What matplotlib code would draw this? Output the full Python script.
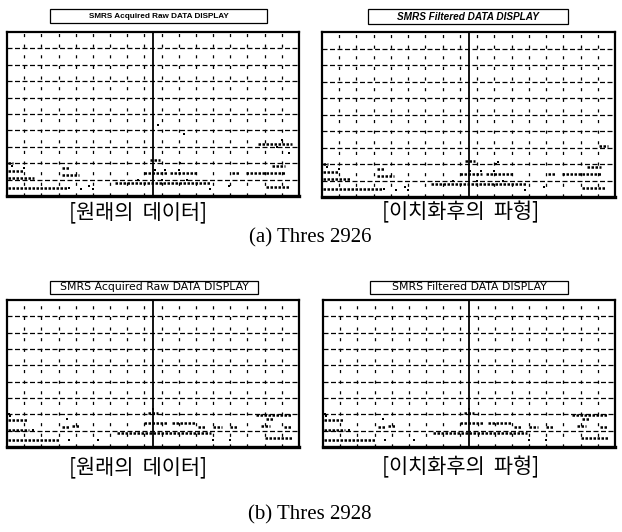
import matplotlib
matplotlib.use("Agg")
import matplotlib.pyplot as plt
from matplotlib.patches import Rectangle

W, H = 622, 532

# dense runs of samples: (x_start, x_end, level)
raw_runs_a = [
    (0.05, 0.35, 2.0), (0.05, 1.0, 1.5), (0.05, 1.6, 1.1), (0.05, 3.5, 0.5),
    (3.2, 3.6, 1.7), (3.2, 4.2, 1.3), (8.3, 8.9, 2.2),
    (8.0, 9.3, 1.4), (9.5, 11.1, 1.4), (6.3, 11.9, 0.8),
    (13.1, 13.5, 1.4), (13.9, 16.2, 1.4), (15.4, 16.2, 1.8), (15.1, 16.5, 0.55),
    (14.6, 16.6, 3.2),
]
raw_dots_a = [
    (3.6, 0.5), (4.3, 0.45), (4.8, 0.6), (5.0, 0.45), (10.1, 2.0), (11.8, 0.45),
    (12.9, 0.6), (0.3, 1.8), (1.0, 1.7), (8.6, 1.6), (9.2, 1.6), (10.0, 1.6),
    (10.5, 1.0), (9.0, 1.0), (7.6, 1.0), (8.8, 4.3), (10.3, 3.8), (16.4, 2.6),
    (16.0, 3.4), (15.7, 3.0),
]
filt_runs_a = [
    (0.05, 0.35, 2.0), (0.05, 1.0, 1.5), (0.05, 1.6, 1.1), (0.05, 3.5, 0.5),
    (3.2, 3.6, 1.7), (3.2, 4.2, 1.3), (8.3, 8.9, 2.2),
    (8.0, 9.3, 1.4), (9.5, 11.1, 1.4), (6.3, 11.9, 0.8),
    (13.1, 13.5, 1.4), (13.9, 16.2, 1.4), (15.4, 16.2, 1.8), (15.1, 16.5, 0.55),
    (16.1, 16.6, 3.1),
]
filt_dots_a = [
    (3.6, 0.5), (4.3, 0.45), (4.8, 0.6), (5.0, 0.45), (10.1, 2.0), (11.8, 0.45),
    (12.9, 0.6), (0.3, 1.8), (1.0, 1.7), (8.6, 1.6), (9.2, 1.6), (10.0, 1.6),
    (10.5, 1.0), (9.0, 1.0), (7.6, 1.0), (10.2, 2.1),
]

raw_runs_b = [
    (0.05, 1.2, 1.65), (0.05, 1.3, 1.05), (0.05, 3.0, 0.45),
    (3.2, 3.6, 1.25), (3.8, 4.2, 1.3), (8.2, 8.8, 2.1),
    (8.0, 9.3, 1.5), (9.6, 11.0, 1.5), (6.4, 11.9, 0.85),
    (11.1, 11.5, 1.25), (12.0, 12.5, 1.25), (13.0, 13.4, 1.25),
    (14.8, 15.3, 1.3), (15.1, 15.5, 1.7), (16.1, 16.6, 1.25),
    (15.0, 16.6, 0.55), (14.5, 16.6, 1.95),
]
raw_dots_b = [
    (0.1, 2.0), (1.5, 1.05), (3.5, 1.7), (3.6, 0.45), (5.3, 0.45), (12.0, 0.45),
    (13.0, 0.45), (8.5, 2.3), (0.2, 1.9),
]
filt_runs_b = list(raw_runs_b)
filt_dots_b = list(raw_dots_b)

N_COLS = 17
MARKER_X = 8.5

titles = ["SMRS Acquired Raw DATA DISPLAY", "SMRS Filtered DATA DISPLAY"]
captions = ["[원래의  데이터]", "[이치화후의  파형]"]
subtitles = ["(a) Thres 2926", "(b) Thres 2928"]


def px_rect(x0, y0, x1, y1):
    """pixel box (top-left origin) -> figure fraction rect"""
    return [x0 / W, 1 - y1 / H, (x1 - x0) / W, (y1 - y0) / H]


def draw_panel(fig, rect, nrows, runs, dots):
    ax = fig.add_axes(rect)
    ax.set_xlim(0, N_COLS)
    ax.set_ylim(0, nrows)
    for k in range(1, N_COLS):
        ax.axvline(k, color="black", lw=0.9, ls=(0, (2.5, 6)))
    for j in range(1, nrows):
        ax.axhline(j, color="black", lw=0.9, ls=(0, (4, 2)))
    ax.axvline(MARKER_X, color="black", lw=1.3)
    for x0, x1, y in runs:
        ax.plot([x0, x1], [y, y], color="black", lw=1.8,
                ls=(0, (1, 0.6)), solid_capstyle="butt")
    ax.plot([d[0] for d in dots], [d[1] for d in dots], "s",
            color="black", ms=1.9, mew=0)
    ax.set_xticks([])
    ax.set_yticks([])
    for s in ax.spines.values():
        s.set_linewidth(1.6)
    ax.spines["bottom"].set_linewidth(2.4)
    return ax


def title_box(fig, x0, y0, x1, y1, text, **kw):
    r = px_rect(x0, y0, x1, y1)
    fig.patches.append(Rectangle((r[0], r[1]), r[2], r[3], transform=fig.transFigure,
                                 fill=False, edgecolor="black", lw=0.9))
    fig.text(r[0] + r[2] / 2, r[1] + r[3] / 2, text, ha="center", va="center", **kw)


fig = plt.figure(figsize=(W / 100, H / 100), dpi=100)
fig.patch.set_facecolor("white")

# (a) panels
draw_panel(fig, px_rect(7, 32, 299, 196), 10, raw_runs_a, raw_dots_a)
draw_panel(fig, px_rect(322, 32, 615, 197), 10, filt_runs_a, filt_dots_a)
title_box(fig, 50, 9, 267, 23, titles[0], family="Liberation Sans",
          weight="bold", fontsize=5.9)
title_box(fig, 368, 9, 568, 24, titles[1], family="Liberation Sans", weight="bold",
          style="italic", fontsize=7.2)

# (b) panels
draw_panel(fig, px_rect(7, 300, 299, 447), 9, raw_runs_b, raw_dots_b)
draw_panel(fig, px_rect(323, 300, 615, 447), 9, filt_runs_b, filt_dots_b)
title_box(fig, 50, 281, 258, 294, titles[0], family="DejaVu Sans", fontsize=7.8)
title_box(fig, 370, 281, 568, 294, titles[1], family="DejaVu Sans", fontsize=7.8)

kor = ["Noto Sans CJK KR", "DejaVu Sans"]
for yc in (212, 467):
    fig.text(138 / W, 1 - yc / H, captions[0], ha="center", va="center",
             family=kor, fontsize=15, weight="light")
    fig.text(461 / W, 1 - yc / H, captions[1], ha="center", va="center",
             family=kor, fontsize=15, weight="light")
for yc, sub in [(238, subtitles[0]), (515, subtitles[1])]:
    fig.text(310 / W, 1 - yc / H, sub, ha="center", va="center",
             family="Liberation Serif", fontsize=15)

fig.savefig("out.png", dpi=100)
